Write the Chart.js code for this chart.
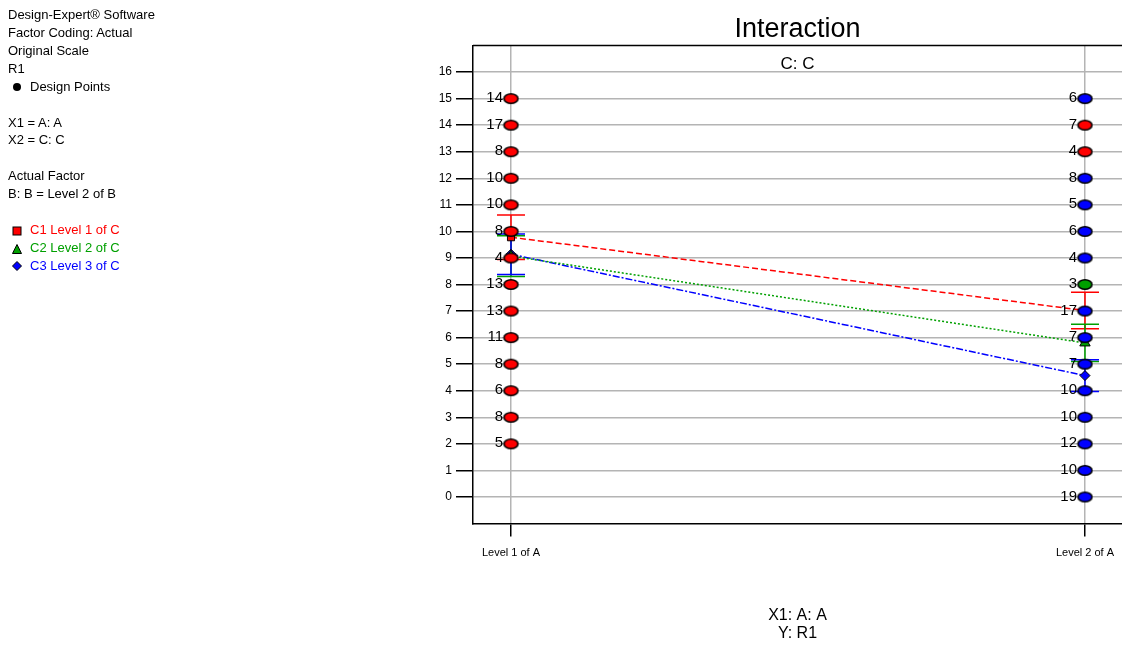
<!DOCTYPE html>
<html>
<head>
<meta charset="utf-8">
<title>Interaction</title>
<script src="https://cdn.jsdelivr.net/npm/chart.js@4.4.0/dist/chart.umd.min.js"></script>
<style>
    body { margin: 0; background: #fff; font-family: Arial, "Liberation Sans", sans-serif; }
    #wrap { position: relative; width: 1122px; height: 646px; }
    #myChart { position: absolute; left: 0; top: 0; }
    #info { position: absolute; left: 8px; top: 6px; font-size: 13px; line-height: 17.93px; color: #000; }
    #info div { height: 17.93px; white-space: nowrap; }
    #info .mk { display: inline-block; width: 22px; vertical-align: middle; }
    #info svg { display: block; margin-left: 4px; }
</style>
</head>
<body>
<div id="wrap">
    <canvas id="myChart" width="1122" height="646"></canvas>
    <div id="info">
        <div>Design-Expert® Software</div>
        <div>Factor Coding: Actual</div>
        <div>Original Scale</div>
        <div>R1</div>
        <div><span class="mk"><svg width="10" height="10"><circle cx="5" cy="5" r="4" fill="#000"/></svg></span>Design Points</div>
        <div></div>
        <div>X1 = A: A</div>
        <div>X2 = C: C</div>
        <div></div>
        <div>Actual Factor</div>
        <div>B: B = Level 2 of B</div>
        <div></div>
        <div style="color:#ff0000"><span class="mk"><svg width="10" height="10"><rect x="1" y="1" width="8" height="8" fill="#ff0000" stroke="#000" stroke-width="1"/></svg></span>C1 Level 1 of C</div>
        <div style="color:#00a000"><span class="mk"><svg width="10" height="10"><polygon points="5,0.5 9.5,9.5 0.5,9.5" fill="#00a000" stroke="#000" stroke-width="1"/></svg></span>C2 Level 2 of C</div>
        <div style="color:#0000ff"><span class="mk"><svg width="10" height="10"><polygon points="5,0.5 9.5,5 5,9.5 0.5,5" fill="#0000ff" stroke="#000" stroke-width="1"/></svg></span>C3 Level 3 of C</div>
    </div>
</div>
<script>
    const levelLabels = ['Level 1 of A', 'Level 2 of A'];
    const cNames = ['C1 Level 1 of C', 'C2 Level 2 of C', 'C3 Level 3 of C'];
    const cColors = ['#ff0000', '#00a000', '#0000ff'];
    const yTicks = [0, 1, 2, 3, 4, 5, 6, 7, 8, 9, 10, 11, 12, 13, 14, 15, 16];

    // design points, Level 1 of A (value, number of runs, C level)
    const lvl1Y     = [15, 14, 13, 12, 11, 10, 9, 8, 7, 6, 5, 4, 3, 2];
    const lvl1Count = [14, 17, 8, 10, 10, 8, 4, 13, 13, 11, 8, 6, 8, 5];
    const lvl1C     = [1, 1, 1, 1, 1, 1, 1, 1, 1, 1, 1, 1, 1, 1];

    // design points, Level 2 of A
    const lvl2Y     = [15, 14, 13, 12, 11, 10, 9, 8, 7, 6, 5, 4, 3, 2, 1, 0];
    const lvl2Count = [6, 7, 4, 8, 5, 6, 4, 3, 17, 7, 7, 10, 10, 12, 10, 19];
    const lvl2C     = [3, 1, 1, 3, 3, 3, 3, 2, 3, 3, 3, 3, 3, 3, 3, 3];

    // predicted means at Level 1 / Level 2 of A, and half LSD bars
    const meanC1 = [9.78, 7.02];
    const meanC2 = [9.07, 5.8];
    const meanC3 = [9.14, 4.57];
    const lsdC1 = [0.84, 0.69];
    const lsdC2 = [0.77, 0.7];
    const lsdC3 = [0.765, 0.60];

    const means = [meanC1, meanC2, meanC3];
    const lsds = [lsdC1, lsdC2, lsdC3];

    function ellipseDot(fill) {
        const c = document.createElement('canvas');
        c.width = 17;
        c.height = 13;
        const g = c.getContext('2d');
        g.beginPath();
        g.ellipse(8.5, 6.5, 7, 4.8, 0, 0, Math.PI * 2);
        g.fillStyle = fill;
        g.fill();
        g.lineWidth = 1.6;
        g.strokeStyle = '#000';
        g.stroke();
        return c;
    }
    const dots = cColors.map(ellipseDot);

    let designData = [];
    let designCounts = [];
    let designStyles = [];
    lvl1Y.forEach((v, i) => {
        designData.push({x: 0, y: v});
        designCounts.push(lvl1Count[i]);
        designStyles.push(dots[lvl1C[i] - 1]);
    });
    lvl2Y.forEach((v, i) => {
        designData.push({x: 1, y: v});
        designCounts.push(lvl2Count[i]);
        designStyles.push(dots[lvl2C[i] - 1]);
    });

    const markerStyles = ['rect', 'triangle', 'rectRot'];
    const dashes = [[6, 3], [2, 2], [7, 2, 2, 2]];

    const meanSets = means.map((m, k) => ({
        label: cNames[k],
        data: m.map((v, i) => ({x: i, y: v})),
        showLine: true,
        borderColor: cColors[k],
        borderWidth: 1.5,
        borderDash: dashes[k],
        pointStyle: markerStyles[k],
        pointRadius: k === 1 ? 6 : 5,
        pointBackgroundColor: cColors[k],
        pointBorderColor: '#000',
        pointBorderWidth: 1,
        order: 1
    }));

    // LSD bars under everything
    const lsdBars = {
        id: 'lsdBars',
        beforeDatasetsDraw(chart) {
            const {ctx, scales: {x, y}} = chart;
            ctx.save();
            ctx.lineWidth = 1.5;
            means.forEach((m, k) => {
                m.forEach((mean, i) => {
                    const px = x.getPixelForValue(i);
                    const top = y.getPixelForValue(mean + lsds[k][i]);
                    const bot = y.getPixelForValue(mean - lsds[k][i]);
                    ctx.strokeStyle = cColors[k];
                    ctx.beginPath();
                    ctx.moveTo(px, top); ctx.lineTo(px, bot);
                    ctx.moveTo(px - 14, top); ctx.lineTo(px + 14, top);
                    ctx.moveTo(px - 14, bot); ctx.lineTo(px + 14, bot);
                    ctx.stroke();
                });
            });
            ctx.restore();
        }
    };

    // run counts beside the design points, titles, top frame line
    const extras = {
        id: 'extras',
        afterDatasetsDraw(chart) {
            const ctx = chart.ctx;
            const meta = chart.getDatasetMeta(0);
            ctx.save();
            ctx.font = '15px Arial, "Liberation Sans", sans-serif';
            ctx.fillStyle = '#000';
            ctx.textAlign = 'right';
            ctx.textBaseline = 'middle';
            meta.data.forEach((pt, i) => {
                ctx.fillText(String(designCounts[i]), pt.x - 8, pt.y - 0.5);
            });
            ctx.restore();
        },
        afterDraw(chart) {
            const {ctx, chartArea: a} = chart;
            const cx = (a.left + a.right) / 2;
            ctx.save();
            ctx.strokeStyle = '#000';
            ctx.lineWidth = 1.5;
            ctx.beginPath();
            ctx.moveTo(a.left, a.top);
            ctx.lineTo(a.right, a.top);
            ctx.stroke();
            ctx.fillStyle = '#000';
            ctx.textAlign = 'center';
            ctx.textBaseline = 'middle';
            ctx.font = '27px Arial, "Liberation Sans", sans-serif';
            ctx.fillText('Interaction', cx, 30);
            ctx.font = '17px Arial, "Liberation Sans", sans-serif';
            ctx.fillText('C: C', cx, 64);
            ctx.restore();
        }
    };

    const chart = new Chart('myChart', {
        type: 'scatter',
        data: {
            datasets: [{
                label: 'Design Points',
                data: designData,
                pointStyle: designStyles,
                pointRadius: 7,
                order: 0
            }].concat(meanSets)
        },
        options: {
            responsive: false,
            animation: false,
            layout: {
                autoPadding: false,
                padding: { left: 420, top: 45.5, right: 0, bottom: 0 }
            },
            plugins: {
                legend: { display: false },
                tooltip: { enabled: false }
            },
            scales: {
                x: {
                    type: 'linear',
                    min: -0.0662,
                    max: 1.0645,
                    afterBuildTicks: (scale) => { scale.ticks = [{value: 0}, {value: 1}]; },
                    afterFit: (scale) => {
                        scale.height = 122.5;
                        scale.paddingLeft = 0;
                        scale.paddingRight = 0;
                    },
                    ticks: {
                        callback: (v, i) => levelLabels[i],
                        autoSkip: false,
                        maxRotation: 0,
                        padding: 10,
                        color: '#000',
                        font: { family: 'Arial, "Liberation Sans", sans-serif', size: 11 }
                    },
                    grid: { color: '#b4b4b4', lineWidth: 1.5, tickColor: '#000', tickLength: 13, tickWidth: 1.5 },
                    border: { color: '#000', width: 1.5 },
                    title: {
                        display: true,
                        text: ['X1: A: A', 'Y: R1'],
                        color: '#000',
                        font: { family: 'Arial, "Liberation Sans", sans-serif', size: 16, lineHeight: 1.1 },
                        padding: { top: 0, bottom: 4 }
                    }
                },
                y: {
                    min: -1,
                    max: 17,
                    afterBuildTicks: (scale) => { scale.ticks = yTicks.map(v => ({value: v})); },
                    afterFit: (scale) => {
                        scale.width = 53;
                        scale.paddingTop = 0;
                        scale.paddingBottom = 0;
                    },
                    ticks: {
                        padding: 4,
                        color: '#000',
                        font: { family: 'Arial, "Liberation Sans", sans-serif', size: 12 }
                    },
                    grid: { color: '#b4b4b4', lineWidth: 1.5, tickColor: '#000', tickLength: 17, tickWidth: 1.5 },
                    border: { color: '#000', width: 1.5 }
                }
            }
        },
        plugins: [lsdBars, extras]
    });
</script>
</body>
</html>
